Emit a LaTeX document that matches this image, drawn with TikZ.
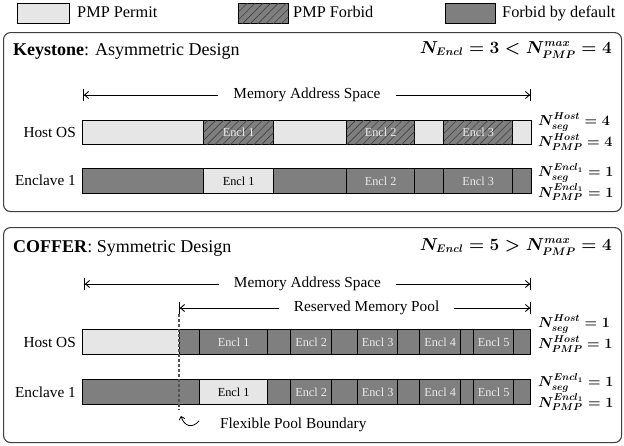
\documentclass[tikz,border=0pt]{standalone}
\usepackage{fontspec}
\setmainfont{Liberation Serif}
\usetikzlibrary{arrows.meta,patterns.meta}
\definecolor{lightg}{HTML}{E6E6E6}
\definecolor{darkg}{HTML}{7F7F7F}
\definecolor{framec}{HTML}{404040}
\definecolor{enclw}{HTML}{EAEAEA}
\newcommand{\kformula}{{\boldmath$N_{Encl}=3<N^{max}_{PMP}=4$}}
\newcommand{\cformula}{{\boldmath$N_{Encl}=5>N^{max}_{PMP}=4$}}
\newcommand{\nlab}[3]{{\boldmath$N^{#1}_{#2}=#3$}}
\begin{document}
\begin{tikzpicture}[x=1pt,y=-1pt,
  lbl/.style={font=\fontsize{15.3}{18}\selectfont, inner sep=0pt},
  legtxt/.style={font=\fontsize{16.3}{19}\selectfont, inner sep=0pt, anchor=base west},
  mathlbl/.style={font=\fontsize{14.5}{17}\selectfont, inner sep=0pt, anchor=base west},
  panel/.style={draw=framec, line width=1.1pt, rounded corners=7pt, anchor=north west, inner sep=0pt},
  bar/.style={draw=black, line width=0.9pt, anchor=north west, inner sep=0pt},
  encl/.style={draw=black, line width=1.3pt, anchor=north west, inner sep=0pt, font=\fontsize{12.3}{14}\selectfont},
  permit/.style={fill=lightg, text=black},
  forbid/.style={fill=darkg, text=enclw},
  hatch/.style={fill=darkg, text=enclw, postaction={pattern={Lines[angle=45,distance=5.5pt,line width=0.6pt]}, pattern color=black!75}},
  dimarrow/.style={line width=0.9pt, {Bar[width=12pt]Straight Barb[length=4pt,width=7pt]}-{Straight Barb[length=4pt,width=7pt]Bar[width=12pt]}},
  gap/.style={fill=white, inner ysep=2pt, inner xsep=15pt, font=\fontsize{15.3}{18}\selectfont}
]
\useasboundingbox (0,0) rectangle (624,445);

% ---------------- legend ----------------
\node[bar, permit, minimum width=52pt, minimum height=20pt] (lg1) at (17,3) {};
\node[legtxt] (lt1) at (77,17) {PMP Permit};
\node[bar, hatch, minimum width=50pt, minimum height=20pt] (lg2) at (238,3) {};
\node[legtxt] (lt2) at (293,17) {PMP Forbid};
\node[bar, forbid, minimum width=50pt, minimum height=20pt] (lg3) at (445,3) {};
\node[legtxt] (lt3) at (502,17) {Forbid by default};

% ---------------- Keystone panel ----------------
\node[panel, minimum width=618pt, minimum height=179pt] (kpanel) at (3,32) {};
\node[anchor=base west, inner sep=0pt, font=\fontsize{18}{21}\selectfont] (ktitle) at (13,55) {\textbf{Keystone}: Asymmetric Design};
\node[anchor=base east, inner sep=0pt, font=\fontsize{16}{19}\selectfont] (kform) at (612,53) {\kformula};

\coordinate (ka1) at (83,95);
\coordinate (ka2) at (531,95);
\draw[dimarrow] (ka1) -- (ka2) node[gap, midway] (kmas) {Memory Address Space};

\node[lbl, anchor=base east] (khost) at (76,137) {Host OS};
\node[bar, permit, minimum width=449pt, minimum height=24pt] (khbar) at (82,120) {};
\node[encl, hatch, minimum width=70pt, minimum height=24pt] (kh1) at (203,120) {Encl 1};
\node[encl, hatch, minimum width=68pt, minimum height=24pt] (kh2) at (346,120) {Encl 2};
\node[encl, hatch, minimum width=69pt, minimum height=24pt] (kh3) at (443,120) {Encl 3};

\node[lbl, anchor=base east] (kencl) at (76,185) {Enclave 1};
\node[bar, forbid, minimum width=449pt, minimum height=25pt] (kebar) at (82,168) {};
\node[encl, permit, minimum width=70pt, minimum height=25pt] (ke1) at (203,168) {Encl 1};
\node[encl, forbid, minimum width=68pt, minimum height=25pt] (ke2) at (346,168) {Encl 2};
\node[encl, forbid, minimum width=69pt, minimum height=25pt] (ke3) at (443,168) {Encl 3};

\node[mathlbl] (kn1) at (538,125) {\nlab{Host}{seg}{4}};
\node[mathlbl] (kn2) at (538,146) {\nlab{Host}{PMP}{4}};
\node[mathlbl] (kn3) at (538,176) {\nlab{Encl_1}{seg}{1}};
\node[mathlbl] (kn4) at (538,197) {\nlab{Encl_1}{PMP}{1}};

% ---------------- COFFER panel ----------------
\node[panel, minimum width=618pt, minimum height=215pt] (cpanel) at (3,227) {};
\node[anchor=base west, inner sep=0pt, font=\fontsize{18}{21}\selectfont] (ctitle) at (13,252) {\textbf{COFFER}: Symmetric Design};
\node[anchor=base east, inner sep=0pt, font=\fontsize{16}{19}\selectfont] (cform) at (612,250) {\cformula};

\coordinate (ca1) at (84,284);
\coordinate (ca2) at (531,284);
\draw[dimarrow] (ca1) -- (ca2) node[gap, midway] (cmas) {Memory Address Space};
\coordinate (cr1) at (179,308);
\coordinate (cr2) at (531,308);
\draw[dimarrow] (cr1) -- (cr2) node[gap, pos=0.533] (crmp) {Reserved Memory Pool};

\node[lbl, anchor=base east] (chost) at (76,347) {Host OS};
\node[bar, permit, minimum width=97pt, minimum height=25pt] (chbarl) at (82,329) {};
\node[bar, forbid, minimum width=351pt, minimum height=25pt] (chbarr) at (179,329) {};
\node[encl, forbid, minimum width=68pt, minimum height=25pt] (ch1) at (199,329) {Encl 1};
\node[encl, forbid, minimum width=41pt, minimum height=25pt] (ch2) at (290,329) {Encl 2};
\node[encl, forbid, minimum width=40pt, minimum height=25pt] (ch3) at (357,329) {Encl 3};
\node[encl, forbid, minimum width=41pt, minimum height=25pt] (ch4) at (419,329) {Encl 4};
\node[encl, forbid, minimum width=40pt, minimum height=25pt] (ch5) at (473,329) {Encl 5};

\node[lbl, anchor=base east] (cencl) at (76,397) {Enclave 1};
\node[bar, forbid, minimum width=448pt, minimum height=25pt] (cebar) at (82,379) {};
\node[encl, permit, minimum width=68pt, minimum height=25pt] (ce1) at (199,379) {Encl 1};
\node[encl, forbid, minimum width=41pt, minimum height=25pt] (ce2) at (290,379) {Encl 2};
\node[encl, forbid, minimum width=40pt, minimum height=25pt] (ce3) at (357,379) {Encl 3};
\node[encl, forbid, minimum width=41pt, minimum height=25pt] (ce4) at (419,379) {Encl 4};
\node[encl, forbid, minimum width=40pt, minimum height=25pt] (ce5) at (473,379) {Encl 5};

\node[mathlbl] (cn1) at (538,327) {\nlab{Host}{seg}{1}};
\node[mathlbl] (cn2) at (538,348) {\nlab{Host}{PMP}{1}};
\node[mathlbl] (cn3) at (538,386) {\nlab{Encl_1}{seg}{1}};
\node[mathlbl] (cn4) at (538,407) {\nlab{Encl_1}{PMP}{1}};

% flexible pool boundary
\coordinate (fb1) at (179,314);
\coordinate (fb2) at (179,410);
\draw[framec!90, line width=1.2pt, dash pattern=on 3pt off 2pt] (fb1) -- (fb2);
\coordinate (ct) at (199,421);
\coordinate (ch) at (181,416);
\draw[line width=0.8pt, -{Straight Barb[length=3pt,width=6pt]}] (ct) .. controls (192,429) and (184,426) .. (ch);
\node[lbl, anchor=base west] (cflex) at (220,428) {Flexible Pool Boundary};
\end{tikzpicture}
\end{document}
